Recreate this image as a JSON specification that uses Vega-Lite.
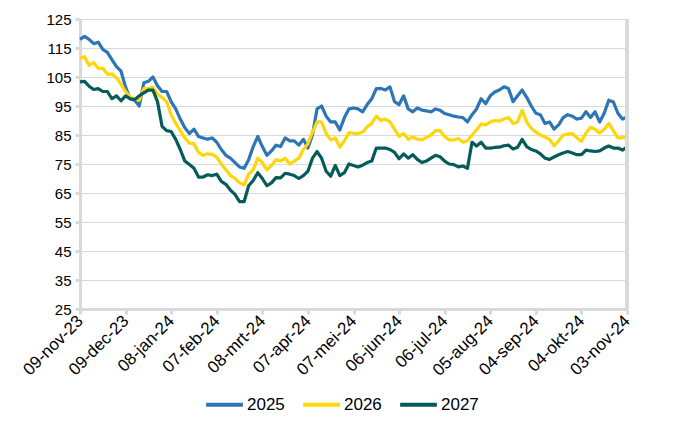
{
  "$schema": "https://vega.github.io/schema/vega-lite/v6.json",
  "width": 547,
  "height": 290,
  "autosize": {"type": "none"},
  "padding": {"left": 80, "top": 19, "right": 73, "bottom": 121},
  "background": "white",
  "config": {
    "view": {"stroke": null},
    "axis": {
      "labelFont": "Liberation Sans",
      "labelFontSize": 14,
      "labelColor": "#000000",
      "domainColor": "#d9d9d9",
      "domainWidth": 3,
      "tickColor": "#d9d9d9",
      "tickWidth": 3,
      "tickSize": 5,
      "gridColor": "#d9d9d9",
      "gridWidth": 1,
      "title": null
    },
    "legend": {
      "labelFont": "Liberation Sans",
      "labelFontSize": 17,
      "labelColor": "#000000"
    }
  },
  "data": {
    "values": [
      {"d":"2023-11-09","2025":118,"2026":111.5,"2027":103.3},
      {"d":"2023-11-12","2025":119,"2026":112,"2027":103.5},
      {"d":"2023-11-15","2025":118,"2026":109,"2027":101.8},
      {"d":"2023-11-18","2025":116.5,"2026":110,"2027":100.7},
      {"d":"2023-11-21","2025":117,"2026":108,"2027":101},
      {"d":"2023-11-24","2025":114.5,"2026":108,"2027":100},
      {"d":"2023-11-27","2025":113.5,"2026":106,"2027":100},
      {"d":"2023-11-30","2025":111,"2026":106,"2027":97.5},
      {"d":"2023-12-03","2025":108.6,"2026":104.7,"2027":98.5},
      {"d":"2023-12-06","2025":107,"2026":102.5,"2027":96.8},
      {"d":"2023-12-09","2025":101.5,"2026":100,"2027":98.5},
      {"d":"2023-12-12","2025":97.5,"2026":98,"2027":97.5},
      {"d":"2023-12-15","2025":97,"2026":97.5,"2027":97.2},
      {"d":"2023-12-18","2025":95,"2026":97,"2027":98.5},
      {"d":"2023-12-21","2025":103,"2026":101,"2027":99.5},
      {"d":"2023-12-24","2025":103.5,"2026":101,"2027":100.5},
      {"d":"2023-12-27","2025":105,"2026":101.5,"2027":100.5},
      {"d":"2023-12-30","2025":102,"2026":99,"2027":96.5},
      {"d":"2024-01-02","2025":100,"2026":98,"2027":88},
      {"d":"2024-01-05","2025":100,"2026":96.5,"2027":86.5},
      {"d":"2024-01-08","2025":96.5,"2026":92,"2027":86.2},
      {"d":"2024-01-11","2025":94,"2026":89,"2027":83.5},
      {"d":"2024-01-14","2025":90.5,"2026":86.5,"2027":80},
      {"d":"2024-01-17","2025":87.5,"2026":84,"2027":76},
      {"d":"2024-01-20","2025":85.5,"2026":82.2,"2027":74.8},
      {"d":"2024-01-23","2025":87,"2026":82,"2027":73.5},
      {"d":"2024-01-26","2025":84.5,"2026":79,"2027":70.5},
      {"d":"2024-01-29","2025":84,"2026":78,"2027":70.5},
      {"d":"2024-02-01","2025":83.5,"2026":78.5,"2027":71.3},
      {"d":"2024-02-04","2025":84,"2026":78.3,"2027":71},
      {"d":"2024-02-07","2025":82.5,"2026":77.4,"2027":71.5},
      {"d":"2024-02-10","2025":80,"2026":75,"2027":69},
      {"d":"2024-02-13","2025":78,"2026":73,"2027":68},
      {"d":"2024-02-16","2025":77,"2026":71,"2027":66},
      {"d":"2024-02-19","2025":75.5,"2026":70,"2027":64.5},
      {"d":"2024-02-22","2025":74,"2026":68.5,"2027":62},
      {"d":"2024-02-25","2025":73.5,"2026":67.8,"2027":62},
      {"d":"2024-02-28","2025":76.5,"2026":71.5,"2027":67.5},
      {"d":"2024-03-02","2025":81,"2026":73,"2027":69.3},
      {"d":"2024-03-05","2025":84.5,"2026":77,"2027":72},
      {"d":"2024-03-08","2025":81,"2026":75.5,"2027":70},
      {"d":"2024-03-11","2025":78,"2026":73,"2027":67.5},
      {"d":"2024-03-14","2025":79.5,"2026":74.5,"2027":68.5},
      {"d":"2024-03-17","2025":81.5,"2026":76.5,"2027":70.3},
      {"d":"2024-03-20","2025":81,"2026":76,"2027":70.2},
      {"d":"2024-03-23","2025":84,"2026":77,"2027":71.8},
      {"d":"2024-03-26","2025":83,"2026":75,"2027":71.5},
      {"d":"2024-03-29","2025":83,"2026":76,"2027":71},
      {"d":"2024-04-01","2025":81.5,"2026":77,"2027":70},
      {"d":"2024-04-04","2025":83.5,"2026":80,"2027":71},
      {"d":"2024-04-07","2025":80.5,"2026":82,"2027":72.5},
      {"d":"2024-04-10","2025":85,"2026":86,"2027":77},
      {"d":"2024-04-13","2025":94,"2026":89.5,"2027":79.3},
      {"d":"2024-04-16","2025":95,"2026":89.5,"2027":77},
      {"d":"2024-04-19","2025":91.5,"2026":85.5,"2027":72.5},
      {"d":"2024-04-22","2025":89.5,"2026":83.3,"2027":70.8},
      {"d":"2024-04-25","2025":89.5,"2026":84,"2027":74.5},
      {"d":"2024-04-28","2025":86.7,"2026":80.8,"2027":71},
      {"d":"2024-05-01","2025":91,"2026":83,"2027":72},
      {"d":"2024-05-04","2025":94,"2026":85.8,"2027":75},
      {"d":"2024-05-07","2025":94.3,"2026":85.6,"2027":74.5},
      {"d":"2024-05-10","2025":94,"2026":85.5,"2027":74},
      {"d":"2024-05-13","2025":93,"2026":86,"2027":74.6},
      {"d":"2024-05-16","2025":95.5,"2026":87.8,"2027":75.5},
      {"d":"2024-05-19","2025":97.5,"2026":89,"2027":76},
      {"d":"2024-05-22","2025":101,"2026":91.5,"2027":80.5},
      {"d":"2024-05-25","2025":101,"2026":90,"2027":80.5},
      {"d":"2024-05-28","2025":100.5,"2026":90.5,"2027":80.5},
      {"d":"2024-05-31","2025":101.6,"2026":89.5,"2027":80},
      {"d":"2024-06-03","2025":96.5,"2026":87,"2027":79},
      {"d":"2024-06-06","2025":95.5,"2026":84.5,"2027":76.8},
      {"d":"2024-06-09","2025":98.5,"2026":85.5,"2027":78.5},
      {"d":"2024-06-12","2025":94,"2026":83.5,"2027":77},
      {"d":"2024-06-15","2025":93,"2026":84.3,"2027":78.2},
      {"d":"2024-06-18","2025":94.3,"2026":83.6,"2027":76.6},
      {"d":"2024-06-21","2025":93.6,"2026":83.3,"2027":75.5},
      {"d":"2024-06-24","2025":93.3,"2026":84.2,"2027":76},
      {"d":"2024-06-27","2025":93,"2026":85,"2027":77},
      {"d":"2024-06-30","2025":94,"2026":86.5,"2027":78},
      {"d":"2024-07-03","2025":93.5,"2026":86.5,"2027":77.5},
      {"d":"2024-07-06","2025":92.4,"2026":84.5,"2027":76},
      {"d":"2024-07-09","2025":92,"2026":83.3,"2027":75},
      {"d":"2024-07-12","2025":91.5,"2026":83.3,"2027":74.8},
      {"d":"2024-07-15","2025":91.2,"2026":83.8,"2027":74},
      {"d":"2024-07-18","2025":91,"2026":82.5,"2027":74.3},
      {"d":"2024-07-21","2025":89.5,"2026":83,"2027":73.5},
      {"d":"2024-07-24","2025":92,"2026":85,"2027":82.5},
      {"d":"2024-07-27","2025":94,"2026":86.8,"2027":81.2},
      {"d":"2024-07-30","2025":97.5,"2026":88.8,"2027":82.5},
      {"d":"2024-08-02","2025":95.8,"2026":88.5,"2027":80.5},
      {"d":"2024-08-05","2025":98.5,"2026":89.5,"2027":80.5},
      {"d":"2024-08-08","2025":99.8,"2026":90,"2027":80.7},
      {"d":"2024-08-11","2025":100.5,"2026":89.8,"2027":80.8},
      {"d":"2024-08-14","2025":101.6,"2026":90.5,"2027":81.3},
      {"d":"2024-08-17","2025":101,"2026":91,"2027":81.5},
      {"d":"2024-08-20","2025":96.5,"2026":89,"2027":80.2},
      {"d":"2024-08-23","2025":98.5,"2026":89.5,"2027":80.8},
      {"d":"2024-08-26","2025":100.5,"2026":93.5,"2027":83.5},
      {"d":"2024-08-29","2025":98,"2026":89.5,"2027":81},
      {"d":"2024-09-01","2025":95,"2026":87.3,"2027":80},
      {"d":"2024-09-04","2025":92.5,"2026":86,"2027":79.5},
      {"d":"2024-09-07","2025":92,"2026":85,"2027":78.5},
      {"d":"2024-09-10","2025":89,"2026":84.3,"2027":77},
      {"d":"2024-09-13","2025":89.5,"2026":83.5,"2027":76.6},
      {"d":"2024-09-16","2025":87,"2026":81.3,"2027":77.4},
      {"d":"2024-09-19","2025":88.5,"2026":83,"2027":78.2},
      {"d":"2024-09-22","2025":91,"2026":85,"2027":78.8},
      {"d":"2024-09-25","2025":92,"2026":85.3,"2027":79.3},
      {"d":"2024-09-28","2025":91.5,"2026":85.5,"2027":78.8},
      {"d":"2024-10-01","2025":90.5,"2026":84,"2027":78.2},
      {"d":"2024-10-04","2025":90.8,"2026":82.8,"2027":78.2},
      {"d":"2024-10-07","2025":93,"2026":85.7,"2027":79.8},
      {"d":"2024-10-10","2025":91,"2026":87.7,"2027":79.5},
      {"d":"2024-10-13","2025":93,"2026":87,"2027":79.3},
      {"d":"2024-10-16","2025":89.5,"2026":85.7,"2027":79.5},
      {"d":"2024-10-19","2025":92.5,"2026":87,"2027":80.5},
      {"d":"2024-10-22","2025":97,"2026":89,"2027":81.2},
      {"d":"2024-10-25","2025":96.4,"2026":86.5,"2027":80.5},
      {"d":"2024-10-28","2025":92.5,"2026":84,"2027":80.5},
      {"d":"2024-10-31","2025":90.5,"2026":84,"2027":79.8},
      {"d":"2024-11-03","2025":91.2,"2026":84.5,"2027":80.8}
    ]
  },
  "layer": [
    {
      "transform": [{"fold": ["2025", "2026", "2027"], "as": ["serie", "waarde"]}],
      "mark": {"type": "line", "strokeWidth": 3.2, "strokeJoin": "round"},
      "encoding": {
        "x": {
          "field": "d",
          "type": "temporal",
          "scale": {
            "type": "utc",
            "domain": [
              {"year": 2023, "month": 11, "date": 9, "utc": true},
              {"year": 2024, "month": 11, "date": 3, "utc": true}
            ]
          },
          "axis": {
            "grid": false,
            "labelAngle": -45,
            "labelAlign": "right",
            "labelBaseline": "middle",
            "labelPadding": 4,
            "labelFontSize": 17,
            "labelOverlap": false,
            "labelBound": false,
            "values": [
              {"year": 2023, "month": 11, "date": 9, "utc": true},
              {"year": 2023, "month": 12, "date": 9, "utc": true},
              {"year": 2024, "month": 1, "date": 8, "utc": true},
              {"year": 2024, "month": 2, "date": 7, "utc": true},
              {"year": 2024, "month": 3, "date": 8, "utc": true},
              {"year": 2024, "month": 4, "date": 7, "utc": true},
              {"year": 2024, "month": 5, "date": 7, "utc": true},
              {"year": 2024, "month": 6, "date": 6, "utc": true},
              {"year": 2024, "month": 7, "date": 6, "utc": true},
              {"year": 2024, "month": 8, "date": 5, "utc": true},
              {"year": 2024, "month": 9, "date": 4, "utc": true},
              {"year": 2024, "month": 10, "date": 4, "utc": true},
              {"year": 2024, "month": 11, "date": 3, "utc": true}
            ],
            "labelExpr": "utcFormat(datum.value, '%d') + '-' + ['jan','feb','mrt','apr','mei','jun','jul','aug','sep','okt','nov','dec'][utcmonth(datum.value)] + '-' + utcFormat(datum.value, '%y')"
          }
        },
        "y": {
          "field": "waarde",
          "type": "quantitative",
          "scale": {"domain": [25, 125], "nice": false, "zero": false},
          "axis": {
            "values": [25, 35, 45, 55, 65, 75, 85, 95, 105, 115, 125],
            "grid": true,
            "labelPadding": 4,
            "labelFontSize": 15
          }
        },
        "color": {
          "field": "serie",
          "type": "nominal",
          "scale": {"domain": ["2025", "2026", "2027"], "range": ["#2E75B6", "#FFD60A", "#055A5A"]},
          "legend": {
            "title": null,
            "orient": "none",
            "legendX": 124,
            "legendY": 365,
            "direction": "horizontal",
            "symbolType": "stroke",
            "symbolStrokeWidth": 4,
            "symbolSize": 1350,
            "labelOffset": 2,
            "columnPadding": 10
          }
        }
      }
    },
    {
      "mark": {"type": "rule", "color": "#d9d9d9", "strokeWidth": 2.5},
      "encoding": {
        "x": {"datum": {"year": 2024, "month": 11, "date": 3, "utc": true}, "type": "temporal"}
      }
    }
  ]
}
